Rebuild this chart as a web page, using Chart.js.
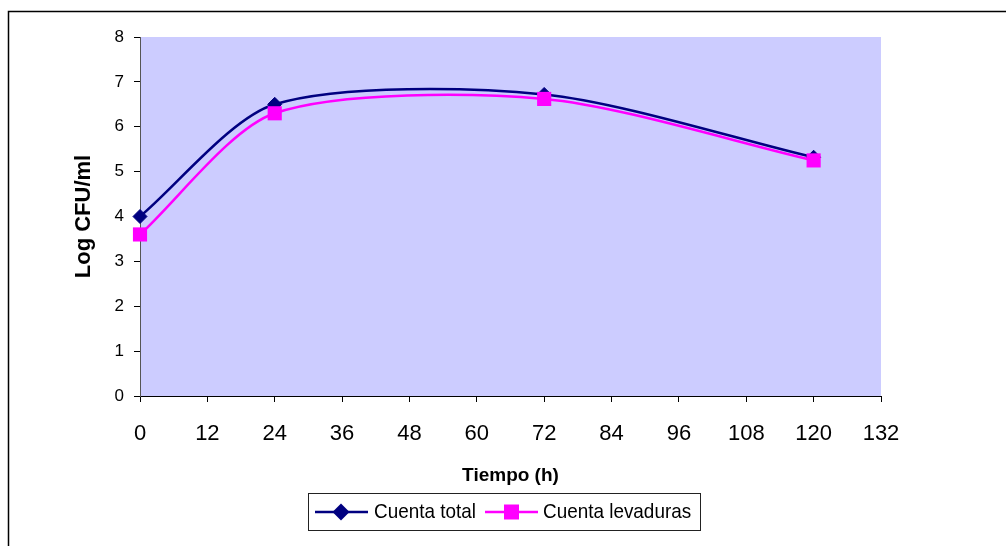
<!DOCTYPE html>
<html>
<head>
<meta charset="utf-8">
<title>Log CFU/ml vs Tiempo</title>
<script src="https://cdn.jsdelivr.net/npm/chart.js@4/dist/chart.umd.min.js"></script>
<style>
  html, body { margin: 0; padding: 0; background: #fff; }
  #wrap { width: 1006px; height: 546px; position: relative; }
</style>
</head>
<body>
<div id="wrap"><canvas id="c" width="1006" height="546"></canvas></div>
<script>
// Sampling times (h) and counts (log CFU/ml)
const hours = [0, 24, 72, 120];
const cuentaTotal = [4.0, 6.5, 6.72, 5.32];
const cuentaLevaduras = [3.6, 6.3, 6.62, 5.25];
const seriesNames = ['Cuenta total', 'Cuenta levaduras'];
const xTickValues = [0, 12, 24, 36, 48, 60, 72, 84, 96, 108, 120, 132];
const yTickValues = [0, 1, 2, 3, 4, 5, 6, 7, 8];
const xTitle = 'Tiempo (h)';
const yTitle = 'Log CFU/ml';

const NAVY = '#000080';
const MAGENTA = '#FF00FF';
const PLOT_BG = '#CCCCFF';
const FONT = "'Liberation Sans', Arial, sans-serif";

const toPoints = (ys) => hours.map((h, i) => ({ x: h, y: ys[i] }));

// Page frame and plot background
const backgroundPlugin = {
  id: 'background',
  beforeDraw(chart) {
    const { ctx, chartArea: a } = chart;
    ctx.save();
    ctx.fillStyle = '#ffffff';
    ctx.fillRect(0, 0, chart.width, chart.height);
    ctx.strokeStyle = '#000';
    ctx.lineWidth = 1.5;
    ctx.beginPath();
    ctx.moveTo(8.5, chart.height + 2);
    ctx.lineTo(8.5, 11.5);
    ctx.lineTo(chart.width + 2, 11.5);
    ctx.stroke();
    ctx.fillStyle = PLOT_BG;
    ctx.fillRect(a.left, a.top, a.right - a.left, a.bottom - a.top);
    ctx.restore();
  }
};

// Boxed legend with a line sample and marker for each series
const boxLegendPlugin = {
  id: 'boxLegend',
  afterDraw(chart) {
    const { ctx } = chart;
    const box = { x: 308.5, y: 493.5, w: 392, h: 37 };
    const cy = box.y + box.h / 2;
    const items = [
      { lineX: 315, markerX: 341, textX: 374 },
      { lineX: 485, markerX: 511.5, textX: 543 }
    ];
    ctx.save();
    ctx.fillStyle = '#fff';
    ctx.fillRect(box.x, box.y, box.w, box.h);
    ctx.strokeStyle = '#222';
    ctx.lineWidth = 1;
    ctx.strokeRect(box.x, box.y, box.w, box.h);
    chart.data.datasets.forEach((ds, i) => {
      const it = items[i];
      ctx.strokeStyle = ds.borderColor;
      ctx.lineWidth = 2.5;
      ctx.beginPath();
      ctx.moveTo(it.lineX, cy);
      ctx.lineTo(it.lineX + 53, cy);
      ctx.stroke();
      ctx.fillStyle = ds.pointBackgroundColor;
      ctx.beginPath();
      if (ds.pointStyle === 'rectRot') {
        const r = 8.5;
        ctx.moveTo(it.markerX, cy - r);
        ctx.lineTo(it.markerX + r, cy);
        ctx.lineTo(it.markerX, cy + r);
        ctx.lineTo(it.markerX - r, cy);
        ctx.closePath();
      } else {
        const s = 7.5;
        ctx.rect(it.markerX - s, cy - s, 2 * s, 2 * s);
      }
      ctx.fill();
      ctx.save();
      ctx.translate(it.textX, cy);
      ctx.scale(0.9, 1);
      ctx.fillStyle = '#000';
      ctx.font = '21px ' + FONT;
      ctx.textAlign = 'left';
      ctx.textBaseline = 'middle';
      ctx.fillText(ds.label, 0, 0);
      ctx.restore();
    });
    ctx.restore();
  }
};

new Chart(document.getElementById('c'), {
  type: 'scatter',
  data: {
    datasets: [
      {
        label: seriesNames[0],
        data: toPoints(cuentaTotal),
        showLine: true,
        borderColor: NAVY,
        backgroundColor: NAVY,
        pointBackgroundColor: NAVY,
        pointBorderColor: NAVY,
        borderWidth: 2.5,
        pointStyle: 'rectRot',
        pointRadius: 7,
        pointBorderWidth: 1,
        tension: 0.27,
        clip: false,
        order: 2
      },
      {
        label: seriesNames[1],
        data: toPoints(cuentaLevaduras),
        showLine: true,
        borderColor: MAGENTA,
        backgroundColor: MAGENTA,
        pointBackgroundColor: MAGENTA,
        pointBorderColor: MAGENTA,
        borderWidth: 2.5,
        pointStyle: 'rect',
        pointRadius: 10,
        pointBorderWidth: 0,
        tension: 0.27,
        clip: false,
        order: 1
      }
    ]
  },
  options: {
    responsive: false,
    animation: false,
    devicePixelRatio: 1,
    layout: { padding: { left: 0, right: 125, top: 37, bottom: 0 } },
    plugins: {
      legend: { display: false },
      tooltip: { enabled: false }
    },
    scales: {
      x: {
        type: 'linear',
        min: 0,
        max: 132,
        afterBuildTicks(scale) { scale.ticks = xTickValues.map(v => ({ value: v })); },
        afterFit(scale) { scale.height = 150; },
        ticks: { color: '#000', font: { family: FONT, size: 22 }, padding: 19, maxRotation: 0, autoSkip: false },
        grid: { drawOnChartArea: false, drawTicks: true, tickLength: 6, color: '#000', lineWidth: 1 },
        border: { display: true, color: '#000', width: 1 },
        title: { display: true, text: xTitle, color: '#000', font: { family: FONT, size: 19, weight: 'bold' }, padding: { top: 0, bottom: 59 } }
      },
      y: {
        type: 'linear',
        min: 0,
        max: 8,
        afterBuildTicks(scale) { scale.ticks = yTickValues.map(v => ({ value: v })); },
        afterFit(scale) { scale.width = 140; },
        ticks: { color: '#000', font: { family: FONT, size: 17 }, padding: 10 },
        grid: { drawOnChartArea: false, drawTicks: true, tickLength: 6, color: '#000', lineWidth: 1 },
        border: { display: true, color: '#555', width: 1 },
        title: { display: true, text: yTitle, color: '#000', font: { family: FONT, size: 22, weight: 'bold' }, padding: { top: 71, bottom: 0 } }
      }
    }
  },
  plugins: [backgroundPlugin, boxLegendPlugin]
});
</script>
</body>
</html>
